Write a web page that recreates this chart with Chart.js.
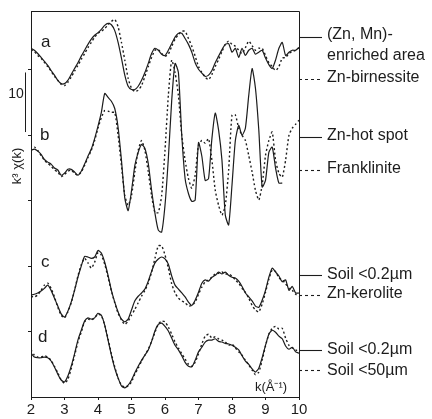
<!DOCTYPE html>
<html>
<head>
<meta charset="utf-8">
<script src="https://cdn.jsdelivr.net/npm/chart.js@4"></script>
<style>
  html, body { margin: 0; padding: 0; background: #fff; }
  canvas { display: block; }
</style>
</head>
<body>
<canvas id="exafs" width="432" height="419"></canvas>
<script>
// k grid (Å-1)
const k = [
  2.0, 2.1, 2.2, 2.3, 2.4, 2.5, 2.6, 2.7, 2.8, 2.9,
  3.0, 3.1, 3.2, 3.3, 3.4, 3.5, 3.6, 3.7, 3.8, 3.9,
  4.0, 4.1, 4.2, 4.3, 4.4, 4.5, 4.6, 4.7, 4.8, 4.9,
  5.0, 5.1, 5.2, 5.3, 5.4, 5.5, 5.6, 5.7, 5.8, 5.9,
  6.0, 6.1, 6.2, 6.3, 6.4, 6.5, 6.6, 6.7, 6.8, 6.9,
  7.0, 7.1, 7.2, 7.3, 7.4, 7.5, 7.6, 7.7, 7.8, 7.9,
  8.0, 8.1, 8.2, 8.3, 8.4, 8.5, 8.6, 8.7, 8.8, 8.9,
  9.0, 9.1, 9.2, 9.3, 9.4, 9.5, 9.6, 9.7, 9.8, 9.9,
  10.0
];

// k3 chi(k), spectra stacked with offsets
const aZnMn = [
  53.3, 53.0, 52.5, 51.9, 51.3, 50.7, 49.9, 49.2, 48.4, 47.9,
  47.9, 48.4, 49.3, 50.2, 51.1, 52.1, 53.0, 53.9, 54.7, 55.3,
  55.7, 56.2, 56.8, 57.1, 56.9, 56.0, 54.2, 51.8, 49.2, 47.5,
  47.0, 47.0, 47.5, 48.4, 49.6, 51.0, 52.5, 53.3, 53.0, 52.4,
  52.2, 53.0, 54.0, 55.0, 55.6, 55.6, 54.8, 53.9, 52.7, 51.1,
  50.1, 49.5, 49.0, 49.2, 49.9, 51.1, 52.1, 53.1, 53.9, 54.0,
  52.7, 53.3, 51.9, 53.3, 52.2, 53.0, 53.3, 52.4, 52.7, 53.0,
  51.8, 50.8, 50.2, 51.5, 53.3, 54.2, 52.2, 52.7, 53.0, 53.0,
  53.4
];
const aBirn = [
  53.1, 52.8, 52.2, 51.8, 51.1, 50.5, 49.8, 49.0, 48.4, 47.8,
  47.6, 48.1, 48.9, 49.8, 50.7, 51.6, 52.5, 53.4, 54.2, 55.0,
  55.6, 55.9, 56.3, 56.9, 57.4, 57.7, 56.6, 54.2, 51.5, 48.7,
  47.2, 46.7, 46.9, 47.6, 49.0, 50.5, 51.9, 53.0, 53.1, 52.5,
  52.1, 52.4, 53.6, 54.7, 55.4, 55.9, 55.9, 54.8, 53.6, 52.1,
  50.5, 49.6, 48.9, 48.5, 49.3, 50.5, 51.6, 52.8, 53.9, 54.4,
  53.9, 53.6, 53.0, 52.5, 53.4, 54.4, 53.7, 53.0, 53.3, 53.3,
  52.2, 51.1, 50.5, 49.9, 50.5, 51.8, 51.9, 52.5, 52.8, 53.0,
  53.4
];
const bHot = [
  37.7, 37.9, 37.6, 37.1, 36.3, 35.9, 35.6, 35.0, 34.7, 33.9,
  34.2, 34.8, 34.8, 34.4, 33.9, 34.5, 35.6, 36.8, 37.9, 39.5,
  41.4, 43.5, 46.4, 45.8, 45.2, 44.1, 41.2, 36.2, 30.4, 28.5,
  31.5, 35.4, 37.4, 38.6, 38.0, 35.7, 31.6, 28.1, 25.5, 25.2,
  29.3, 36.5, 45.3, 51.0, 49.6, 40.0, 33.4, 31.1, 29.9, 30.1,
  38.9, 36.8, 33.1, 33.4, 39.5, 43.4, 40.8, 36.2, 27.8, 26.3,
  32.4, 39.2, 41.5, 40.0, 41.1, 46.1, 50.2, 47.2, 40.8, 32.1,
  33.1, 37.4, 38.2, 35.0, 32.7, 32.7, null, null, null, null,
  null
];
const bFrank = [
  37.7, 38.2, 37.7, 36.9, 36.2, 35.7, 35.3, 34.7, 34.4, 33.7,
  34.0, 34.5, 34.7, 34.2, 33.9, 34.4, 35.4, 36.6, 37.7, 39.2,
  41.1, 42.7, 43.8, 43.7, 43.5, 43.5, 40.0, 35.4, 30.8, 29.3,
  30.8, 34.4, 37.7, 39.2, 37.7, 34.4, 30.8, 28.2, 28.2, 30.8,
  37.7, 46.1, 51.5, 49.6, 46.1, 40.0, 36.2, 33.4, 31.9, 33.9,
  38.5, 39.2, 38.8, 39.5, 36.2, 31.6, 29.3, 27.8, 29.3, 34.7,
  43.1, 43.1, 41.1, 40.0, 39.2, 36.9, 34.4, 31.6, 30.1, 32.4,
  36.9, 39.2, 40.5, 36.2, 34.2, 33.6, 36.2, 40.0, 41.1, 41.7,
  42.3
];
const cSoil = [
  15.6, 15.7, 15.9, 16.2, 16.6, 17.1, 16.3, 15.1, 13.9, 12.7,
  12.2, 13.1, 14.5, 16.3, 18.3, 20.0, 21.5, 21.4, 21.2, 21.4,
  22.4, 22.0, 20.6, 18.6, 16.3, 14.5, 13.0, 11.9, 11.5, 11.9,
  13.3, 14.7, 15.4, 15.9, 16.5, 17.7, 19.2, 20.5, 21.1, 21.4,
  21.1, 20.3, 18.5, 17.1, 16.5, 15.9, 15.3, 14.5, 14.0, 14.8,
  16.0, 17.4, 17.9, 17.7, 18.3, 18.6, 19.1, 18.8, 19.1, 18.6,
  18.3, 18.2, 17.7, 16.9, 15.9, 15.3, 14.7, 13.9, 13.7, 14.8,
  16.3, 18.3, 19.7, 19.1, 18.5, 17.6, 17.9, 16.3, 16.9, 15.9,
  15.9
];
const cKer = [
  15.4, 15.3, 15.6, 16.3, 17.1, 17.4, 16.6, 15.3, 13.7, 12.5,
  12.1, 13.0, 14.4, 16.3, 18.5, 20.2, 21.2, 20.5, 19.7, 20.6,
  22.1, 21.7, 20.3, 18.3, 16.2, 14.4, 12.8, 11.8, 11.1, 11.6,
  12.5, 13.4, 14.4, 15.4, 16.3, 17.4, 19.1, 21.2, 23.1, 23.1,
  21.7, 19.7, 17.3, 15.9, 15.1, 14.7, 14.4, 13.9, 14.0, 14.5,
  15.7, 16.8, 17.6, 17.9, 18.3, 18.8, 18.9, 19.1, 18.8, 18.8,
  18.5, 17.9, 17.4, 16.6, 16.0, 15.1, 14.0, 13.3, 13.0, 14.2,
  16.0, 18.0, 19.4, 19.2, 18.2, 17.9, 17.3, 16.6, 16.3, 15.7,
  15.4
];
const dSoil02 = [
  6.7, 6.1, 6.0, 6.0, 6.1, 6.0, 5.5, 4.6, 3.5, 2.6,
  2.3, 3.2, 4.7, 6.6, 8.7, 10.2, 11.6, 12.1, 11.9, 12.1,
  12.8, 12.5, 11.0, 8.7, 6.4, 4.4, 2.9, 1.7, 1.4, 1.8,
  2.6, 3.7, 4.7, 5.6, 6.4, 7.2, 8.5, 10.1, 11.1, 11.3,
  10.8, 10.1, 9.0, 7.9, 7.2, 6.3, 5.3, 4.7, 4.6, 5.6,
  6.9, 7.6, 8.4, 8.7, 8.7, 8.9, 8.5, 8.4, 8.2, 8.1,
  7.9, 7.6, 7.2, 6.3, 5.5, 5.0, 4.3, 3.8, 4.4, 6.0,
  7.9, 9.6, 10.2, 9.9, 9.3, 8.9, 7.8, 7.3, 7.6, 6.9,
  6.7
];
const dSoil50 = [
  7.2, 6.4, 6.1, 6.1, 6.3, 6.1, 5.6, 4.7, 3.7, 2.6,
  2.1, 2.7, 4.3, 6.3, 8.4, 9.9, 11.5, 11.9, 11.8, 12.1,
  12.7, 12.4, 11.0, 8.9, 6.6, 4.6, 2.9, 1.8, 1.5, 1.7,
  2.3, 3.5, 4.4, 5.5, 6.4, 7.3, 8.5, 9.9, 11.1, 11.6,
  11.5, 10.7, 9.6, 8.4, 7.5, 6.6, 5.8, 5.0, 4.7, 5.3,
  6.6, 8.1, 9.3, 9.6, 9.0, 9.2, 8.9, 8.7, 8.4, 7.9,
  8.1, 7.5, 6.9, 6.4, 5.6, 4.9, 4.1, 3.4, 3.8, 5.6,
  7.8, 9.6, 10.5, 10.8, 10.4, 10.5, 9.0, 7.9, 7.5, 7.2,
  6.9
];

const xTicks = [2, 3, 4, 5, 6, 7, 8, 9, 10];
const yTicks = [10, 20, 30, 40, 50];

const FONT = "'Liberation Sans', Arial, Helvetica, sans-serif";
const INK = '#1c1c1c';

function pts(ys) {
  return ys.map((v, i) => ({ x: k[i], y: v }));
}
function line(label, ys, dashed) {
  return {
    label: label,
    data: pts(ys),
    borderColor: INK,
    borderWidth: dashed ? 1.4 : 1.2,
    borderDash: dashed ? [2, 2.5] : [],
    pointRadius: 0,
    tension: 0.2,
    spanGaps: false,
    fill: false
  };
}

const notes = {
  id: 'notes',
  afterDraw(chart) {
    const ctx = chart.ctx;
    const ca = chart.chartArea;
    const y = chart.scales.y;
    ctx.save();

    // top and right frame
    ctx.strokeStyle = INK;
    ctx.lineWidth = 1;
    ctx.setLineDash([]);
    ctx.beginPath();
    ctx.moveTo(ca.left, ca.top + 0.5);
    ctx.lineTo(ca.right + 0.5, ca.top + 0.5);
    ctx.lineTo(ca.right + 0.5, ca.bottom);
    ctx.stroke();

    ctx.fillStyle = INK;
    ctx.textBaseline = 'middle';

    // curve letters
    ctx.font = '17px ' + FONT;
    ctx.textAlign = 'left';
    [['a', 41, 42], ['b', 40, 135], ['c', 41, 262], ['d', 38, 337]].forEach(function (l) {
      ctx.fillText(l[0], l[1], l[2]);
    });

    // scale bar "10"
    ctx.beginPath();
    ctx.moveTo(25.5, y.getPixelForValue(49.6));
    ctx.lineTo(25.5, y.getPixelForValue(40.5));
    ctx.stroke();
    ctx.font = '14px ' + FONT;
    ctx.textAlign = 'center';
    ctx.fillText('10', 16, 94);

    // y title
    ctx.save();
    ctx.translate(17, 166);
    ctx.rotate(-Math.PI / 2);
    ctx.font = '13px ' + FONT;
    ctx.fillText('k\u00B3 \u03C7(k)', 0, 0);
    ctx.restore();

    // x title
    ctx.font = '13px ' + FONT;
    ctx.textAlign = 'center';
    ctx.fillText('k(\u00C5\u207B\u00B9)', 271, 387);

    // legend
    const entries = [
      { y: 37, dash: false, text: [['(Zn, Mn)-', 35], ['enriched area', 56]] },
      { y: 79, dash: true, text: [['Zn-birnessite', 78]] },
      { y: 137, dash: false, text: [['Zn-hot spot', 136]] },
      { y: 170, dash: true, text: [['Franklinite', 169]] },
      { y: 275, dash: false, text: [['Soil <0.2\u00B5m', 275]] },
      { y: 295, dash: true, text: [['Zn-kerolite', 294]] },
      { y: 350, dash: false, text: [['Soil <0.2\u00B5m', 350]] },
      { y: 370, dash: true, text: [['Soil <50\u00B5m', 371]] }
    ];
    ctx.font = '16px ' + FONT;
    ctx.textAlign = 'left';
    entries.forEach(function (e) {
      ctx.setLineDash(e.dash ? [3, 3] : []);
      ctx.lineWidth = 1.1;
      ctx.beginPath();
      ctx.moveTo(ca.right, e.y + 0.5);
      ctx.lineTo(ca.right + 23, e.y + 0.5);
      ctx.stroke();
      e.text.forEach(function (t) {
        ctx.fillText(t[0], ca.right + 28, t[1]);
      });
    });
    ctx.restore();
  }
};

const ctx = document.getElementById('exafs');
const chart = new Chart(ctx, {
  type: 'line',
  data: {
    datasets: [
      line('(Zn, Mn)-enriched area', aZnMn, false),
      line('Zn-birnessite', aBirn, true),
      line('Zn-hot spot', bHot, false),
      line('Franklinite', bFrank, true),
      line('Soil <0.2\u00B5m', cSoil, false),
      line('Zn-kerolite', cKer, true),
      line('Soil <0.2\u00B5m', dSoil02, false),
      line('Soil <50\u00B5m', dSoil50, true)
    ]
  },
  options: {
    responsive: false,
    animation: false,
    layout: { padding: { top: 11, right: 133, left: 0, bottom: 0 } },
    plugins: {
      legend: { display: false },
      tooltip: { enabled: false }
    },
    scales: {
      x: {
        type: 'linear',
        min: 2,
        max: 10,
        afterBuildTicks: function (s) { s.ticks = xTicks.map(function (v) { return { value: v }; }); },
        afterFit: function (s) { s.height = 22; },
        border: { color: INK, width: 1 },
        grid: { drawOnChartArea: false, drawTicks: true, tickLength: 3, color: INK },
        ticks: { color: INK, font: { family: FONT, size: 15 }, padding: 1, maxRotation: 0, autoSkip: false }
      },
      y: {
        type: 'linear',
        min: 0,
        max: 59,
        afterBuildTicks: function (s) { s.ticks = yTicks.map(function (v) { return { value: v }; }); },
        afterFit: function (s) { s.width = 31; },
        border: { color: INK, width: 1 },
        grid: { drawOnChartArea: false, drawTicks: true, tickLength: 3, color: INK },
        ticks: { display: false }
      }
    }
  },
  plugins: [notes]
});
</script>
</body>
</html>
